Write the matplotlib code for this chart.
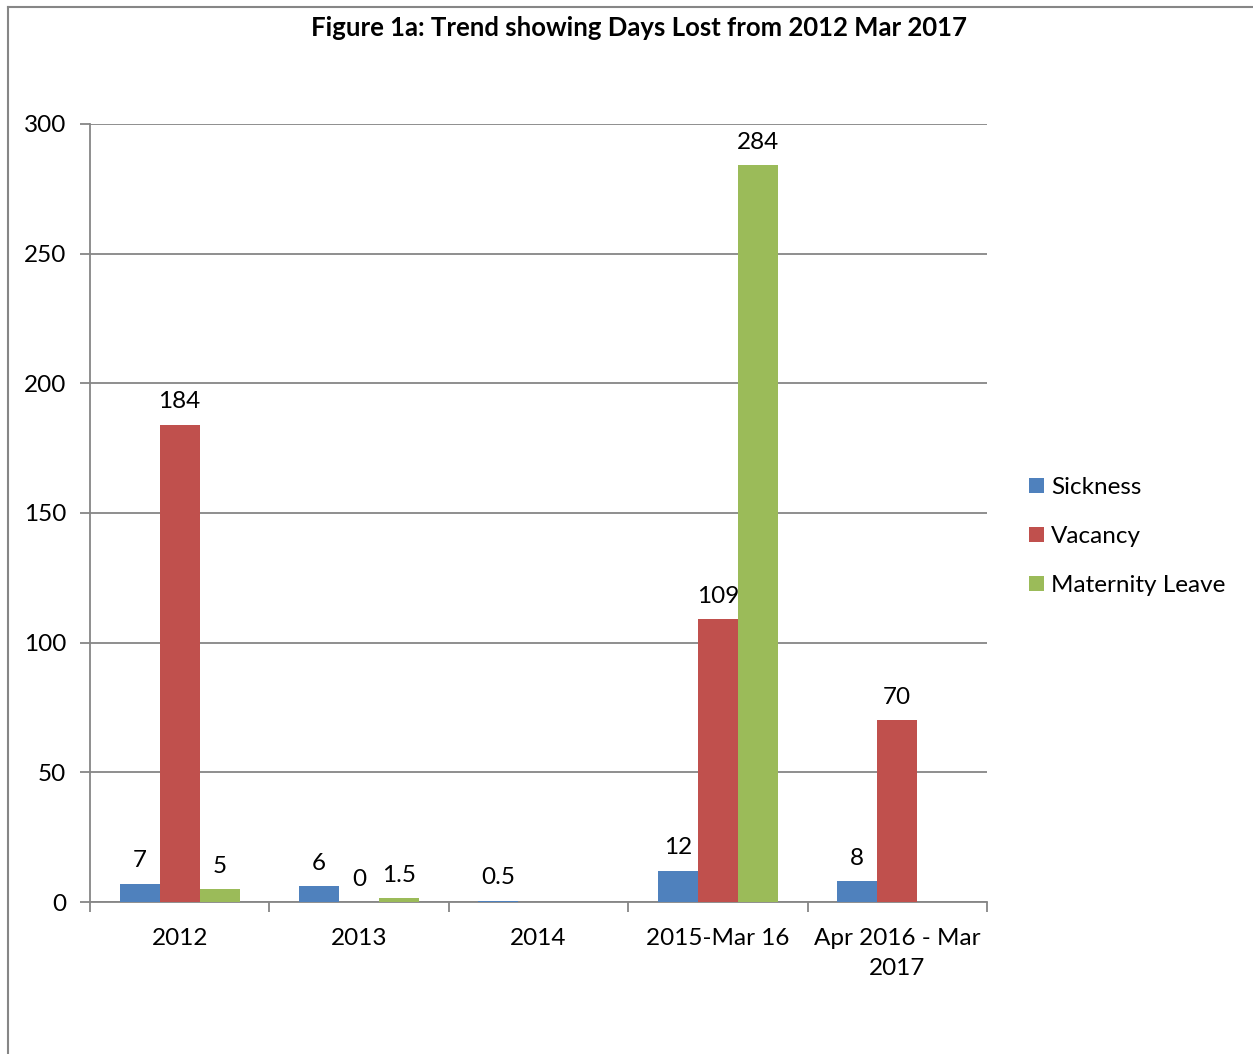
import numpy as np
import matplotlib.pyplot as plt
from matplotlib.lines import Line2D

plt.rcParams['font.family'] = ['Lato', 'DejaVu Sans']

categories = ['2012', '2013', '2014', '2015-Mar 16', 'Apr 2016 - Mar\n2017']
sickness = [7, 6, 0.5, 12, 8]
vacancy = [184, 0, np.nan, 109, 70]
maternity = [5, 1.5, np.nan, 284, np.nan]

series = [('Sickness', sickness, '#4F81BD'),
          ('Vacancy', vacancy, '#C0504D'),
          ('Maternity Leave', maternity, '#9BBB59')]

fig = plt.figure(figsize=(12.53, 10.54), dpi=100)
ax = fig.add_axes([0.0718, 0.1442, 0.7159, 0.7382])

x = np.arange(len(categories))
bar_width = 0.223
grid_color = '#868686'
fs = 17.5

for i, (name, values, color) in enumerate(series):
    pos = x + (i - 1) * bar_width
    vals = np.array(values, dtype=float)
    ax.bar(pos, vals, width=bar_width, color=color, label=name, zorder=3)
    for p, v in zip(pos, vals):
        if np.isnan(v):
            continue
        ax.annotate(f'{v:g}', (p, v), xytext=(0, 9), textcoords='offset points',
                    ha='center', va='bottom', fontsize=fs)

ax.set_xlim(-0.5, len(categories) - 0.5)
ax.set_ylim(0, 300)
ax.set_yticks(range(0, 301, 50))
ax.yaxis.grid(True, color=grid_color, linewidth=1.3, zorder=0)
ax.set_axisbelow(True)

# category labels between boundary ticks
ax.set_xticks(np.arange(len(categories) + 1) - 0.5)
ax.set_xticklabels([])
ax.set_xticks(x, minor=True)
ax.set_xticklabels(categories, minor=True, fontsize=fs, linespacing=1.5)
ax.tick_params(axis='x', which='minor', length=0, pad=19)
ax.tick_params(axis='x', which='major', length=7, width=1.3, color=grid_color, direction='out')
ax.tick_params(axis='y', length=7, width=1.3, color=grid_color, labelsize=fs, pad=10)

for side in ['top', 'right']:
    ax.spines[side].set_visible(False)
for side in ['left', 'bottom']:
    ax.spines[side].set_color(grid_color)
    ax.spines[side].set_linewidth(1.3)

fig.text(0.51, 0.973, 'Figure 1a: Trend showing Days Lost from 2012 Mar 2017',
         ha='center', va='center', fontsize=18.5, fontweight='bold')

ax.legend(loc='center left', bbox_to_anchor=(0.804, 0.491), bbox_transform=fig.transFigure,
          frameon=False, fontsize=fs, handlelength=0.6, handleheight=0.6,
          handletextpad=0.3, labelspacing=1.15)

# chart border (left and top visible)
fig.add_artist(Line2D([8 / 1253, 8 / 1253], [0, 1 - 7 / 1054], transform=fig.transFigure,
                      color=grid_color, linewidth=1.5))
fig.add_artist(Line2D([8 / 1253, 1], [1 - 7 / 1054, 1 - 7 / 1054], transform=fig.transFigure,
                      color=grid_color, linewidth=1.5))

fig.savefig('out.png', dpi=100)
